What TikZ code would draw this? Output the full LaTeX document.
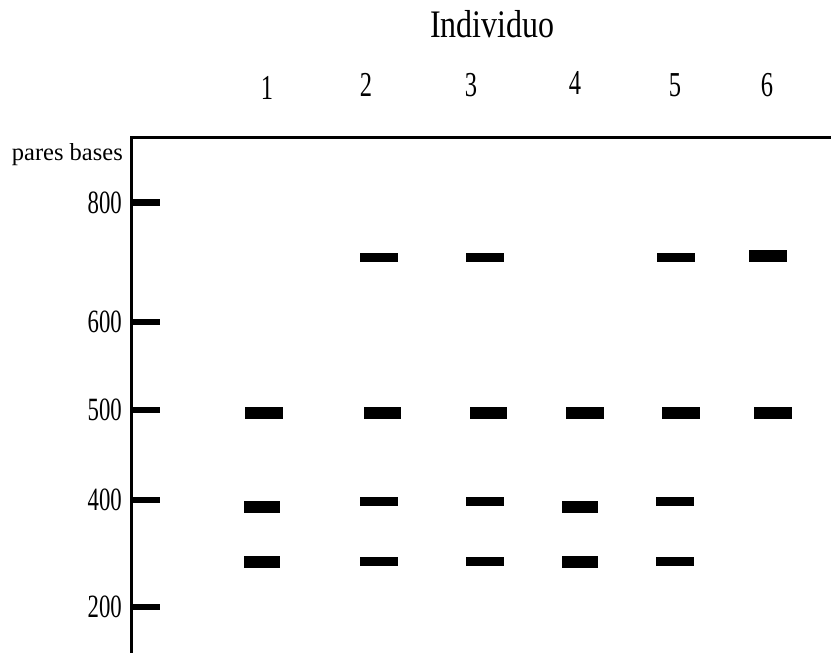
\documentclass[tikz,border=0pt]{standalone}
\usepackage{fontspec}
\setmainfont{Liberation Serif}
\newfontfamily\narrowfont[FakeStretch=0.70]{Liberation Serif}
\newfontfamily\titlefont[FakeStretch=0.82]{Liberation Serif}
\begin{document}
\begin{tikzpicture}[x=1pt,y=-1pt,
  axisline/.style={line width=3pt},
  tickmark/.style={line width=6.5pt},
  ticklabel/.style={anchor=east,inner sep=0pt,font=\narrowfont\fontsize{32.5}{32.5}\selectfont},
  lanelabel/.style={anchor=base,inner sep=0pt,font=\narrowfont\fontsize{35}{35}\selectfont},
  band/.style={rectangle,fill=black,draw=none,inner sep=0pt,minimum width=38pt,minimum height=9pt},
  thickband/.style={band,minimum width=37pt,minimum height=12pt}]
\useasboundingbox (0,0) rectangle (831,653);

% title and lane numbers
\node[anchor=base,inner sep=0pt,font=\titlefont\fontsize{39}{39}\selectfont] (title) at (492.5,37) {Individuo};
\node[lanelabel] (n1) at (267,99) {1};
\node[lanelabel] (n2) at (366,96) {2};
\node[lanelabel] (n3) at (471,96) {3};
\node[lanelabel] (n4) at (575,94) {4};
\node[lanelabel] (n5) at (675,96) {5};
\node[lanelabel] (n6) at (767,96) {6};

% size axis
\coordinate (corner) at (131.5,137.5);
\coordinate (right) at (831,137.5);
\coordinate (bottom) at (131.5,653);
\draw[axisline] (right) -- (corner) -- (bottom);
\node[anchor=base east,inner sep=0pt,font=\fontsize{24.5}{24.5}\selectfont] (unit) at (123,160) {pares bases};

\foreach \v/\y in {800/202.5,600/322,500/410,400/500,200/607}{
  \coordinate (t\v a) at (130,\y);
  \coordinate (t\v b) at (160,\y);
  \draw[tickmark] (t\v a) -- (t\v b);
  \node[ticklabel] (l\v) at (122,\y) {\v};
}

% bands near 700 bp
\node[band] (b2r1) at (379,257.5) {};
\node[band] (b3r1) at (484.5,257.5) {};
\node[band] (b5r1) at (676,257.5) {};
\node[thickband,minimum width=38pt] (b6r1) at (768,256) {};

% bands at 500 bp
\node[thickband,minimum width=38pt] (b1r2) at (264,413) {};
\node[thickband] (b2r2) at (382.5,413) {};
\node[thickband] (b3r2) at (488.5,413) {};
\node[thickband,minimum width=38pt] (b4r2) at (585,413) {};
\node[thickband,minimum width=38pt] (b5r2) at (681,413) {};
\node[thickband,minimum width=38pt] (b6r2) at (773,413) {};

% bands near 400 bp
\node[thickband,minimum width=36pt] (b1r3) at (262,506.5) {};
\node[band] (b2r3) at (379,501.5) {};
\node[band] (b3r3) at (485,501.5) {};
\node[thickband,minimum width=36pt] (b4r3) at (580,506.5) {};
\node[band] (b5r3) at (675,501.5) {};

% bands near 300 bp
\node[thickband,minimum width=36pt] (b1r4) at (262,561.5) {};
\node[band] (b2r4) at (379,561.5) {};
\node[band] (b3r4) at (485,561.5) {};
\node[thickband,minimum width=36pt] (b4r4) at (580,561.5) {};
\node[band] (b5r4) at (675,561.5) {};
\end{tikzpicture}
\end{document}
